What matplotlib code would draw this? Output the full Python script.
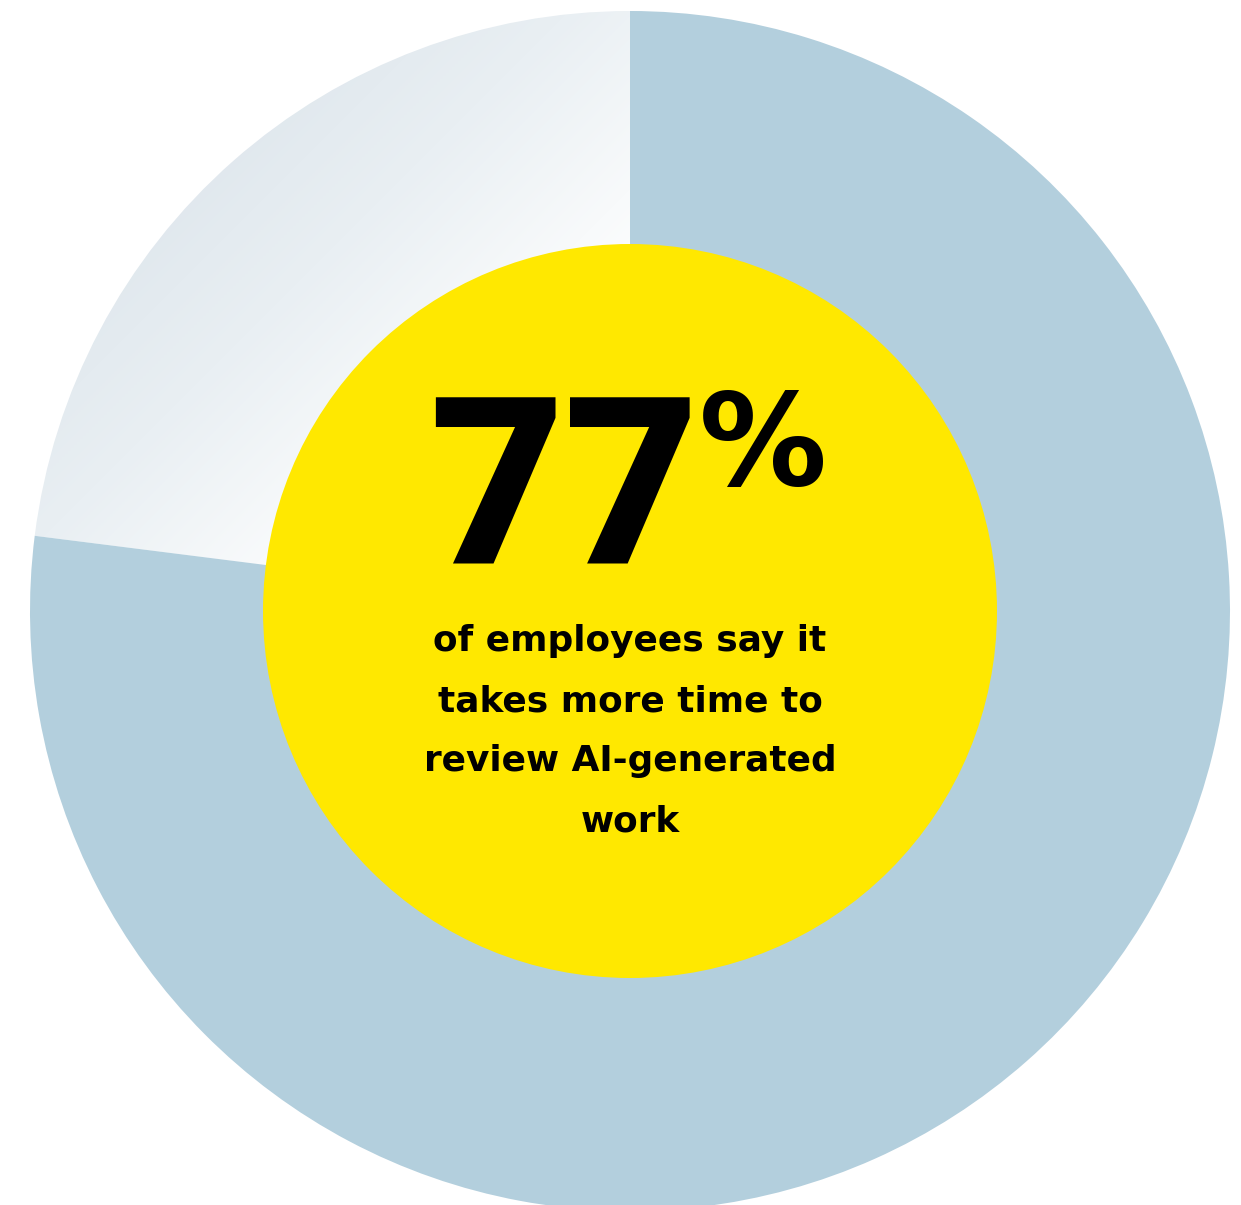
import numpy as np
import matplotlib
matplotlib.use("Agg")
import matplotlib.pyplot as plt
from matplotlib.patches import Circle
from matplotlib.colors import LinearSegmentedColormap

# share of employees and the remainder
share = 77
rest = 100 - share
big_label = "77"
caption = ["of employees say it",
           "takes more time to",
           "review AI-generated",
           "work"]

W, H = 1241, 1205
cx, cy = 630, H - 611      # ring centre (y measured upward)
r_out, r_in = 600, 367

blue = "#B3CFDD"
yellow = "#FFE800"

fig = plt.figure(figsize=(W / 100, H / 100), dpi=100)
ax = fig.add_axes([0, 0, 1, 1])

wedges, _ = ax.pie([rest, share], colors=["none", blue], startangle=90,
                   counterclock=True, radius=r_out, center=(cx, cy),
                   wedgeprops=dict(linewidth=0))
ax.set_xlim(0, W)
ax.set_ylim(0, H)
ax.set_aspect("equal")
ax.axis("off")

# soft diagonal fade inside the remainder slice: tinted top-left, white toward the middle
grad = LinearSegmentedColormap.from_list(
    "fade", [(0.0, "#DBE4EB"), (0.25, "#DFE7ED"), (0.45, "#E9EFF3"),
             (0.65, "#F8FAFB"), (0.75, "#FFFFFF"), (1.0, "#FFFFFF")])
x0, x1 = cx - r_out, cx
y0, y1 = cy, cy + r_out
xx, yy = np.meshgrid(np.linspace(0, 1, 400), np.linspace(0, 1, 400))
t = (xx + yy) / 2
im = ax.imshow(t, cmap=grad, vmin=0, vmax=1, extent=[x0, x1, y0, y1],
               origin="upper", interpolation="bilinear", zorder=1)
im.set_clip_path(wedges[0])
wedges[1].set_zorder(2)

ax.add_patch(Circle((cx, cy), r_in, facecolor=yellow, edgecolor="none", zorder=3))

ax.text(564, H - 565, big_label, fontsize=168, fontfamily="Roboto",
        fontweight="black", ha="center", va="baseline", zorder=4)
ax.text(763, H - 485, "%", fontsize=92, fontfamily="DejaVu Sans",
        fontweight="bold", ha="center", va="baseline", zorder=4)

for i, line in enumerate(caption):
    ax.text(cx, H - (651 + 60 * i), line, fontsize=25.8, fontfamily="DejaVu Sans",
            fontweight="bold", ha="center", va="baseline", zorder=4)

fig.savefig("out.png", dpi=100, facecolor="white")
